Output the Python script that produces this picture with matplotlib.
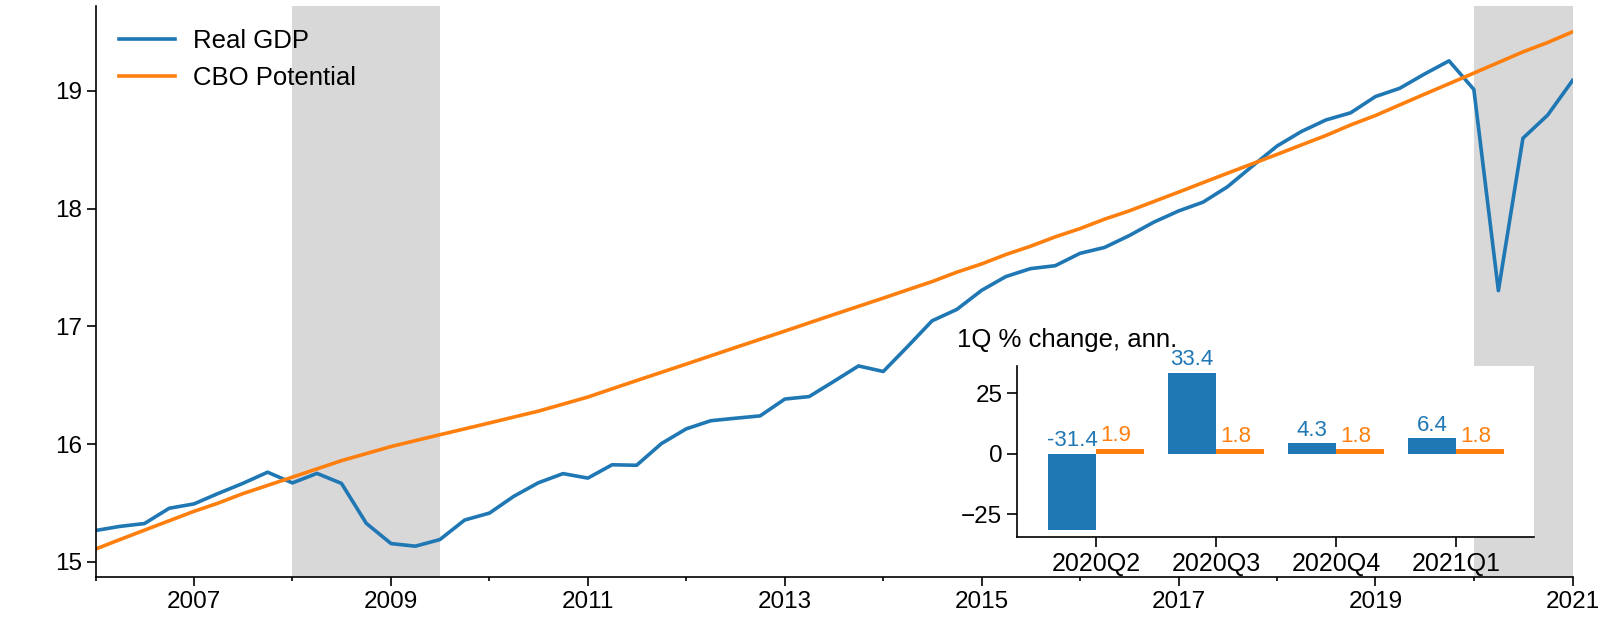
import pandas as pd
import numpy as np
import matplotlib.pyplot as plt

plt.rcParams['font.family'] = ['Liberation Sans', 'DejaVu Sans']
plt.rcParams['font.size'] = 17.5

# quarterly, 2006Q1 - 2021Q1
quarters = pd.period_range("2006Q1", "2021Q1", freq="Q")

# trillions of chained 2012 dollars
real_gdp = [15.267, 15.302, 15.326, 15.456,
            15.493, 15.582, 15.667, 15.762,
            15.671, 15.752, 15.667, 15.328,
            15.156, 15.134, 15.190, 15.356,
            15.415, 15.557, 15.672, 15.750,
            15.712, 15.825, 15.821, 16.005,
            16.130, 16.199, 16.220, 16.240,
            16.383, 16.404, 16.532, 16.664,
            16.617, 16.828, 17.047, 17.144,
            17.306, 17.423, 17.490, 17.515,
            17.620, 17.670, 17.770, 17.885,
            17.980, 18.054, 18.185, 18.360,
            18.531, 18.654, 18.752, 18.813,
            18.951, 19.021, 19.141, 19.254,
            19.011, 17.303, 18.597, 18.794,
            19.087]

cbo_potential = [15.11, 15.19, 15.27, 15.35,
                 15.43, 15.50, 15.58, 15.65,
                 15.72, 15.79, 15.86, 15.92,
                 15.98, 16.03, 16.08, 16.13,
                 16.18, 16.23, 16.28, 16.34,
                 16.40, 16.47, 16.54, 16.61,
                 16.68, 16.75, 16.82, 16.89,
                 16.96, 17.03, 17.10, 17.17,
                 17.24, 17.31, 17.38, 17.46,
                 17.53, 17.61, 17.68, 17.76,
                 17.83, 17.91, 17.98, 18.06,
                 18.14, 18.22, 18.30, 18.38,
                 18.46, 18.54, 18.62, 18.71,
                 18.79, 18.88, 18.97, 19.06,
                 19.15, 19.24, 19.33, 19.41,
                 19.50]

recessions = [("2008-01-01", "2009-07-01"), ("2020-01-01", "2021-01-01")]

# inset: annualized 1Q % change
inset_quarters = ["2020Q2", "2020Q3", "2020Q4", "2021Q1"]
inset_gdp = [-31.4, 33.4, 4.3, 6.4]
inset_potential = [1.9, 1.8, 1.8, 1.8]

blue = '#1f77b4'
orange = '#ff7f0e'

dates = quarters.to_timestamp()

fig = plt.figure(figsize=(16.13, 6.2), dpi=100)
ax = fig.add_axes([0.0593, 0.0689, 0.9156, 0.9215])

for start, end in recessions:
    ax.axvspan(pd.Timestamp(start), pd.Timestamp(end), color='#d8d8d8', lw=0, zorder=0)

ax.plot(dates, real_gdp, color=blue, lw=2.6, label='Real GDP')
ax.plot(dates, cbo_potential, color=orange, lw=2.6, label='CBO Potential')

ax.set_xlim(pd.Timestamp("2006-01-01"), pd.Timestamp("2021-01-01"))
ax.set_ylim(14.87, 19.72)
ax.set_yticks([15, 16, 17, 18, 19])
ax.set_xticks([pd.Timestamp(f"{y}-01-01") for y in range(2007, 2022, 2)])
ax.set_xticklabels([str(y) for y in range(2007, 2022, 2)])
ax.set_xticks([pd.Timestamp(f"{y}-01-01") for y in range(2006, 2021, 2)], minor=True)
ax.tick_params(axis='x', which='major', length=6.3, width=1.2)
ax.tick_params(axis='x', which='minor', length=3, width=1.2)
ax.tick_params(axis='y', length=6.5, width=1.2)
for s in ['top', 'right']:
    ax.spines[s].set_visible(False)
for s in ['left', 'bottom']:
    ax.spines[s].set_linewidth(1.2)

ax.legend(loc='upper left', frameon=False, handlelength=2.2, handletextpad=0.7, fontsize=18.5)

# inset bar chart
ins = fig.add_axes([0.6304, 0.1334, 0.3206, 0.2763])
ins.set_facecolor('white')
x = np.arange(len(inset_quarters))
ins.bar(x - 0.2, inset_gdp, width=0.4, color=blue)
ins.bar(x + 0.2, inset_potential, width=0.4, color=orange)
for xi, v in zip(x, inset_gdp):
    ins.annotate(f"{v}", (xi - 0.2, max(v, 0)), xytext=(0, 2), textcoords='offset points',
                 ha='center', va='bottom', color=blue, fontsize=16)
for xi, v in zip(x, inset_potential):
    ins.annotate(f"{v}", (xi + 0.2, max(v, 0)), xytext=(-3, 2), textcoords='offset points',
                 ha='center', va='bottom', color=orange, fontsize=16)
ins.set_xticks(x)
ins.set_xticklabels(inset_quarters, fontsize=18)
ins.set_yticks([-25, 0, 25])
ins.set_xlim(-0.66, 3.65)
ins.set_ylim(-34.5, 36.3)
ins.tick_params(length=7, width=1.2)
for s in ['top', 'right']:
    ins.spines[s].set_visible(False)
for s in ['left', 'bottom']:
    ins.spines[s].set_linewidth(1.2)

fig.text(0.5933, 0.4403, '1Q % change, ann.', va='baseline', ha='left', fontsize=18.5)

fig.savefig('out.png', dpi=100)
